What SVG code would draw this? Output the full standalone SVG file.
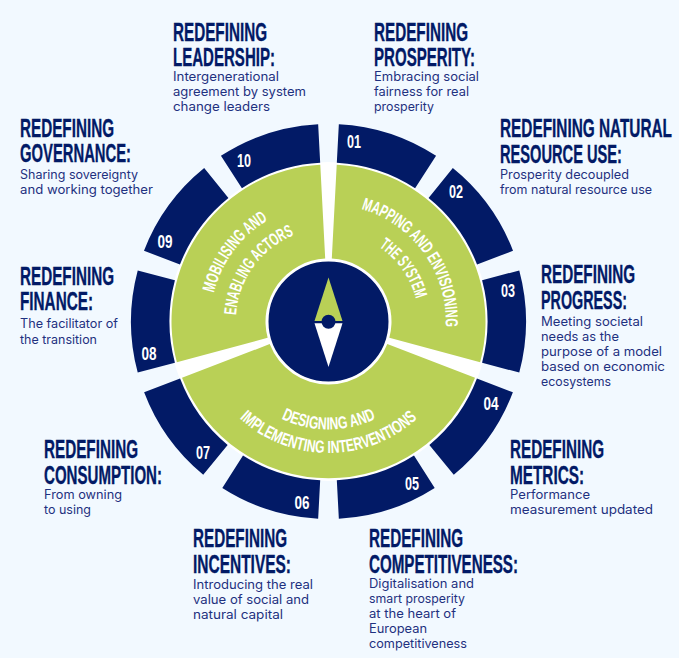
<svg xmlns="http://www.w3.org/2000/svg" width="679" height="658" viewBox="0 0 679 658">
<style>
.h{font-family:"Liberation Sans Narrow","Liberation Sans",sans-serif;font-weight:700;font-size:25px;fill:#021a66;stroke:#021a66;stroke-width:.35px}
.b{font-family:"Inter","Lato",sans-serif;font-size:12.6px;fill:#1f3180}
.n{font-family:"Liberation Sans Narrow","Liberation Sans",sans-serif;font-weight:700;font-size:18px;fill:#fff;text-anchor:middle}
.c{font-family:"Liberation Sans Narrow","Liberation Sans",sans-serif;font-weight:700;font-size:17.5px;fill:#fff}
.seg{fill:#021a66}
.g{fill:#b9d056}
</style>
<rect width="679" height="658" fill="#f2f9ff"/>
<g id="wheel-base"><circle cx="328.5" cy="321.5" r="159.5" fill="#fff"/></g>
<g id="seg-01"><path class="seg" d="M338.84 124.27A197.5 197.5 0 0 1 436.07 155.87L415.09 188.20A159 159 0 0 0 336.82 162.72Z"/><text class="n" x="354" y="148" textLength="14" lengthAdjust="spacingAndGlyphs">01</text></g>
<g id="seg-02"><path class="seg" d="M452.81 168.02A197.5 197.5 0 0 1 513.01 250.74L477.04 264.53A159 159 0 0 0 428.57 197.94Z"/><text class="n" x="456" y="198" textLength="14" lengthAdjust="spacingAndGlyphs">02</text></g>
<g id="seg-03"><path class="seg" d="M519.27 270.39A197.5 197.5 0 0 1 519.27 372.61L482.08 362.65A159 159 0 0 0 482.08 280.35Z"/><text class="n" x="508" y="297" textLength="14" lengthAdjust="spacingAndGlyphs">03</text></g>
<g id="seg-04"><path class="seg" d="M512.88 392.28A197.5 197.5 0 0 1 453.78 474.78L429.36 444.91A159 159 0 0 0 476.92 378.49Z"/><text class="n" x="491" y="410" textLength="15" lengthAdjust="spacingAndGlyphs">04</text></g>
<g id="seg-05"><path class="seg" d="M434.7 488.0A197.5 197.5 0 0 1 338.84 518.73L336.82 480.28A159 159 0 0 0 414.0 455.6Z"/><text class="n" x="412" y="490" textLength="14" lengthAdjust="spacingAndGlyphs">05</text></g>
<g id="seg-06"><path class="seg" d="M318.16 518.73A197.5 197.5 0 0 1 222.3 488.0L243.0 455.6A159 159 0 0 0 320.18 480.28Z"/><text class="n" x="302" y="509" textLength="15" lengthAdjust="spacingAndGlyphs">06</text></g>
<g id="seg-07"><path class="seg" d="M203.22 474.78A197.5 197.5 0 0 1 144.12 392.28L180.08 378.49A159 159 0 0 0 227.64 444.91Z"/><text class="n" x="203" y="459" textLength="14" lengthAdjust="spacingAndGlyphs">07</text></g>
<g id="seg-08"><path class="seg" d="M137.73 372.61A197.5 197.5 0 0 1 137.73 270.39L174.92 280.35A159 159 0 0 0 174.92 362.65Z"/><text class="n" x="149" y="360" textLength="15" lengthAdjust="spacingAndGlyphs">08</text></g>
<g id="seg-09"><path class="seg" d="M143.99 250.74A197.5 197.5 0 0 1 204.19 168.02L228.43 197.94A159 159 0 0 0 179.96 264.53Z"/><text class="n" x="165" y="248" textLength="15" lengthAdjust="spacingAndGlyphs">09</text></g>
<g id="seg-10"><path class="seg" d="M220.93 155.87A197.5 197.5 0 0 1 318.16 124.27L320.18 162.72A159 159 0 0 0 241.91 188.20Z"/><text class="n" x="244" y="167" textLength="14" lengthAdjust="spacingAndGlyphs">10</text></g>

<g id="stage-mapping">
<path class="g" d="M336.72 164.72A157 157 0 0 1 480.15 362.14L389.35 337.80A63 63 0 0 0 331.80 258.59Z"/>
<path id="p1" fill="none" d="M361.4 209.0A117.2 117.2 0 0 1 445.6 328.6"/>
<path id="p2" fill="none" d="M379.0 246.9A90.5 90.5 0 0 1 416.0 299.0"/>
<text class="c"><textPath href="#p1" textLength="156" lengthAdjust="spacingAndGlyphs">MAPPING AND ENVISIONING</textPath></text>
<text class="c"><textPath href="#p2" textLength="65" lengthAdjust="spacingAndGlyphs">THE SYSTEM</textPath></text>
</g>
<g id="stage-designing">
<path class="g" d="M475.0 377.8A157 157 0 0 1 182.0 377.8L269.7 344.1A63 63 0 0 0 387.3 344.1Z"/>
<path id="p3" fill="none" d="M281.2 418.6A108 108 0 0 0 375.8 418.6"/>
<path id="p4" fill="none" d="M239.6 418.4A131.5 131.5 0 0 0 417.4 418.4"/>
<text class="c"><textPath href="#p3" textLength="98" lengthAdjust="spacingAndGlyphs">DESIGNING AND</textPath></text>
<text class="c"><textPath href="#p4" textLength="195" lengthAdjust="spacingAndGlyphs">IMPLEMENTING INTERVENTIONS</textPath></text>
</g>
<g id="stage-mobilising">
<path class="g" d="M176.85 362.14A157 157 0 0 1 320.28 164.72L325.2 258.59A63 63 0 0 0 267.65 337.80Z"/>
<path id="p5" fill="none" d="M213.9 292.9A118 118 0 0 1 267.7 220.3"/>
<path id="p6" fill="none" d="M236.0 315.1A93 93 0 0 1 294.0 235.2"/>
<text class="c"><textPath href="#p5" textLength="93" lengthAdjust="spacingAndGlyphs">MOBILISING AND</textPath></text>
<text class="c"><textPath href="#p6" textLength="104" lengthAdjust="spacingAndGlyphs">ENABLING ACTORS</textPath></text>
</g>
<g id="compass">
<circle cx="328.5" cy="321.5" r="61" fill="#021a66" stroke="#fff" stroke-width="2"/>
<path class="g" d="M328.5 277.5L342.5 321H314.5Z"/>
<path fill="#fff" d="M314.5 323.3H342.5L328.5 367Z"/>
<circle cx="328.5" cy="321.7" r="7" fill="#021a66"/>
</g>

<g id="label-leadership"><text class="h" x="173" y="41" textLength="94" lengthAdjust="spacingAndGlyphs">REDEFINING</text><text class="h" x="173" y="65.5" textLength="102" lengthAdjust="spacingAndGlyphs">LEADERSHIP:</text>
<text class="b" x="173" y="81" textLength="106" lengthAdjust="spacingAndGlyphs">Intergenerational</text><text class="b" x="173" y="96" textLength="133" lengthAdjust="spacingAndGlyphs">agreement by system</text><text class="b" x="173" y="111" textLength="97" lengthAdjust="spacingAndGlyphs">change leaders</text></g>
<g id="label-prosperity"><text class="h" x="374" y="41" textLength="94" lengthAdjust="spacingAndGlyphs">REDEFINING</text><text class="h" x="374" y="65.5" textLength="101" lengthAdjust="spacingAndGlyphs">PROSPERITY:</text>
<text class="b" x="374" y="81" textLength="105" lengthAdjust="spacingAndGlyphs">Embracing social</text><text class="b" x="374" y="96" textLength="95" lengthAdjust="spacingAndGlyphs">fairness for real</text><text class="b" x="374" y="111" textLength="60" lengthAdjust="spacingAndGlyphs">prosperity</text></g>
<g id="label-natural"><text class="h" x="500" y="137" textLength="172" lengthAdjust="spacingAndGlyphs">REDEFINING NATURAL</text><text class="h" x="500" y="163" textLength="122" lengthAdjust="spacingAndGlyphs">RESOURCE USE:</text>
<text class="b" x="500" y="179" textLength="129" lengthAdjust="spacingAndGlyphs">Prosperity decoupled</text><text class="b" x="500" y="194" textLength="152" lengthAdjust="spacingAndGlyphs">from natural resource use</text></g>
<g id="label-progress"><text class="h" x="541" y="283" textLength="94" lengthAdjust="spacingAndGlyphs">REDEFINING</text><text class="h" x="541" y="309" textLength="86" lengthAdjust="spacingAndGlyphs">PROGRESS:</text>
<text class="b" x="541" y="326" textLength="102" lengthAdjust="spacingAndGlyphs">Meeting societal</text><text class="b" x="541" y="341" textLength="78" lengthAdjust="spacingAndGlyphs">needs as the</text><text class="b" x="541" y="356" textLength="121" lengthAdjust="spacingAndGlyphs">purpose of a model</text><text class="b" x="541" y="371" textLength="124" lengthAdjust="spacingAndGlyphs">based on economic</text><text class="b" x="541" y="386" textLength="70" lengthAdjust="spacingAndGlyphs">ecosystems</text></g>
<g id="label-metrics"><text class="h" x="510" y="458" textLength="94" lengthAdjust="spacingAndGlyphs">REDEFINING</text><text class="h" x="510" y="484" textLength="74" lengthAdjust="spacingAndGlyphs">METRICS:</text>
<text class="b" x="510" y="499" textLength="80" lengthAdjust="spacingAndGlyphs">Performance</text><text class="b" x="510" y="514" textLength="143" lengthAdjust="spacingAndGlyphs">measurement updated</text></g>
<g id="label-competitiveness"><text class="h" x="369" y="547" textLength="94" lengthAdjust="spacingAndGlyphs">REDEFINING</text><text class="h" x="369" y="573" textLength="149" lengthAdjust="spacingAndGlyphs">COMPETITIVENESS:</text>
<text class="b" x="369" y="588" textLength="105" lengthAdjust="spacingAndGlyphs">Digitalisation and</text><text class="b" x="369" y="603" textLength="96" lengthAdjust="spacingAndGlyphs">smart prosperity</text><text class="b" x="369" y="618" textLength="87" lengthAdjust="spacingAndGlyphs">at the heart of</text><text class="b" x="369" y="633" textLength="58" lengthAdjust="spacingAndGlyphs">European</text><text class="b" x="369" y="648" textLength="98" lengthAdjust="spacingAndGlyphs">competitiveness</text></g>
<g id="label-incentives"><text class="h" x="193" y="547" textLength="94" lengthAdjust="spacingAndGlyphs">REDEFINING</text><text class="h" x="193" y="573" textLength="98" lengthAdjust="spacingAndGlyphs">INCENTIVES:</text>
<text class="b" x="193" y="589" textLength="120" lengthAdjust="spacingAndGlyphs">Introducing the real</text><text class="b" x="193" y="604" textLength="116" lengthAdjust="spacingAndGlyphs">value of social and</text><text class="b" x="193" y="619" textLength="90" lengthAdjust="spacingAndGlyphs">natural capital</text></g>
<g id="label-consumption"><text class="h" x="44" y="458" textLength="94" lengthAdjust="spacingAndGlyphs">REDEFINING</text><text class="h" x="44" y="484" textLength="118" lengthAdjust="spacingAndGlyphs">CONSUMPTION:</text>
<text class="b" x="44" y="499" textLength="78" lengthAdjust="spacingAndGlyphs">From owning</text><text class="b" x="44" y="514" textLength="47" lengthAdjust="spacingAndGlyphs">to using</text></g>
<g id="label-finance"><text class="h" x="20" y="285" textLength="94" lengthAdjust="spacingAndGlyphs">REDEFINING</text><text class="h" x="20" y="310" textLength="73" lengthAdjust="spacingAndGlyphs">FINANCE:</text>
<text class="b" x="20" y="328" textLength="98" lengthAdjust="spacingAndGlyphs">The facilitator of</text><text class="b" x="20" y="344" textLength="77" lengthAdjust="spacingAndGlyphs">the transition</text></g>
<g id="label-governance"><text class="h" x="20" y="137" textLength="94" lengthAdjust="spacingAndGlyphs">REDEFINING</text><text class="h" x="20" y="162" textLength="111" lengthAdjust="spacingAndGlyphs">GOVERNANCE:</text>
<text class="b" x="20" y="179" textLength="118" lengthAdjust="spacingAndGlyphs">Sharing sovereignty</text><text class="b" x="20" y="194" textLength="133" lengthAdjust="spacingAndGlyphs">and working together</text></g>
</svg>
